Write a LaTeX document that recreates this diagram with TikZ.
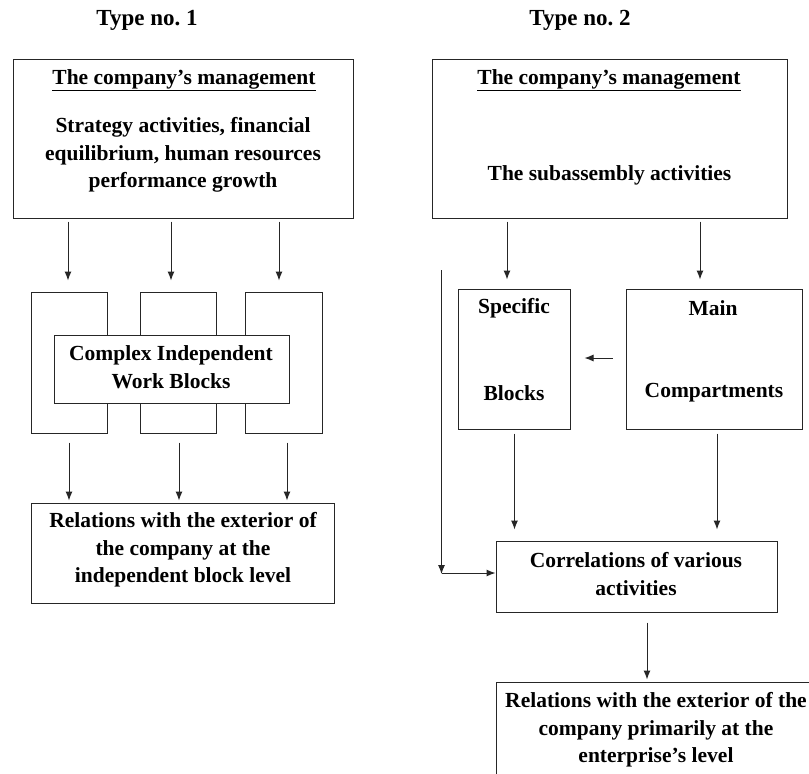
\documentclass[tikz,border=0pt]{standalone}
\usepackage{fontspec}
\setmainfont{Liberation Serif}
\usetikzlibrary{arrows.meta}
\begin{document}
\frenchspacing
\begin{tikzpicture}[x=1pt,y=-1pt,
  box/.style={draw=black!85, line width=1pt, inner sep=0pt, fill=white},
  txt/.style={font=\fontsize{21.5}{27.5}\selectfont\bfseries, align=center, inner sep=0pt},
  ttl/.style={font=\fontsize{23}{27}\selectfont\bfseries, inner sep=0pt},
  arr/.style={draw=black!85, line width=1pt, -{Latex[length=9pt,width=7pt]}}]
\clip (0,0) rectangle (809,774);
\fill[white] (0,0) rectangle (809,774);

% titles
\node[ttl] (t1) at (147,20) {Type no. 1};
\node[ttl] (t2) at (580,20) {Type no. 2};

% ---------- Type 1 ----------
\node[box, minimum width=340pt, minimum height=159pt] (m1) at (183,138.5) {};
\node[txt] (m1h) at (184,80) {\underline{The company’s management}};
\node[txt] (m1b) at (183,155) {Strategy activities, financial\\equilibrium, human resources\\performance growth};

\node[box, minimum width=76pt, minimum height=141pt] (b1) at (69,362.5) {};
\node[box, minimum width=76pt, minimum height=141pt] (b2) at (178,362.5) {};
\node[box, minimum width=77pt, minimum height=141pt] (b3) at (283.5,362.5) {};
\node[box, minimum width=235pt, minimum height=68pt] (cw) at (171.5,369) {};
\node[txt] (cwt) at (171,367) {Complex Independent\\Work Blocks};

\node[box, minimum width=303pt, minimum height=100pt] (r1) at (182.5,553) {};
\node[txt] (r1t) at (183,550) {Relations with the exterior of\\the company at the\\independent block level};

\coordinate (a1) at (68,0);
\coordinate (a2) at (171,0);
\coordinate (a3) at (279,0);
\draw[arr, shorten <=3pt, shorten >=11pt] (m1.south -| a1) -- (b1.north -| a1);
\draw[arr, shorten <=3pt, shorten >=11pt] (m1.south -| a2) -- (b2.north -| a2);
\draw[arr, shorten <=3pt, shorten >=11pt] (m1.south -| a3) -- (b3.north -| a3);

\coordinate (c1) at (69,0);
\coordinate (c2) at (179,0);
\coordinate (c3) at (287,0);
\draw[arr, shorten <=9pt, shorten >=2pt] (b1.south -| c1) -- (r1.north -| c1);
\draw[arr, shorten <=9pt, shorten >=2pt] (b2.south -| c2) -- (r1.north -| c2);
\draw[arr, shorten <=9pt, shorten >=2pt] (b3.south -| c3) -- (r1.north -| c3);

% ---------- Type 2 ----------
\node[box, minimum width=355pt, minimum height=159pt] (m2) at (609.5,138.5) {};
\node[txt] (m2h) at (609,80) {\underline{The company’s management}};
\node[txt] (m2b) at (609.5,175) {The subassembly activities};

\node[box, minimum width=112pt, minimum height=140pt] (sb) at (514,359) {};
\node[txt] (sbt1) at (514,308) {Specific};
\node[txt] (sbt2) at (514,393) {Blocks};
\node[box, minimum width=176pt, minimum height=140pt] (mc) at (714,359) {};
\node[txt] (mct1) at (713,308) {Main};
\node[txt] (mct2) at (714,393) {Compartments};

\node[box, minimum width=281pt, minimum height=71pt] (co) at (636.5,576.5) {};
\node[txt] (cot) at (636,574) {Correlations of various\\activities};

\node[box, minimum width=320pt, minimum height=100pt] (r2) at (656,732) {};
\node[txt] (r2t) at (656,730) {Relations with the exterior of the\\company primarily at the\\enterprise’s level};

\coordinate (d1) at (507,0);
\coordinate (d2) at (700,0);
\draw[arr, shorten <=3pt, shorten >=9pt] (m2.south -| d1) -- (sb.north -| d1);
\draw[arr, shorten <=3pt, shorten >=9pt] (m2.south -| d2) -- (mc.north -| d2);

\coordinate (h) at (0,358);
\draw[arr, shorten <=13pt, shorten >=14pt] (mc.west |- h) -- (sb.east |- h);

\coordinate (e1) at (514.5,0);
\coordinate (e2) at (717,0);
\draw[arr, shorten <=4pt, shorten >=11pt] (sb.south -| e1) -- (co.north -| e1);
\draw[arr, shorten <=4pt, shorten >=11pt] (mc.south -| e2) -- (co.north -| e2);

\coordinate (lt) at (441.5,270);
\coordinate (lc) at (441.5,573);
\draw[arr] (lt) -- ([yshift=-1pt]lc);
\draw[arr] (lc) -- (lc -| co.west);

\coordinate (f) at (647,0);
\draw[arr, shorten <=10pt, shorten >=2pt] (co.south -| f) -- (r2.north -| f);
\end{tikzpicture}
\end{document}
